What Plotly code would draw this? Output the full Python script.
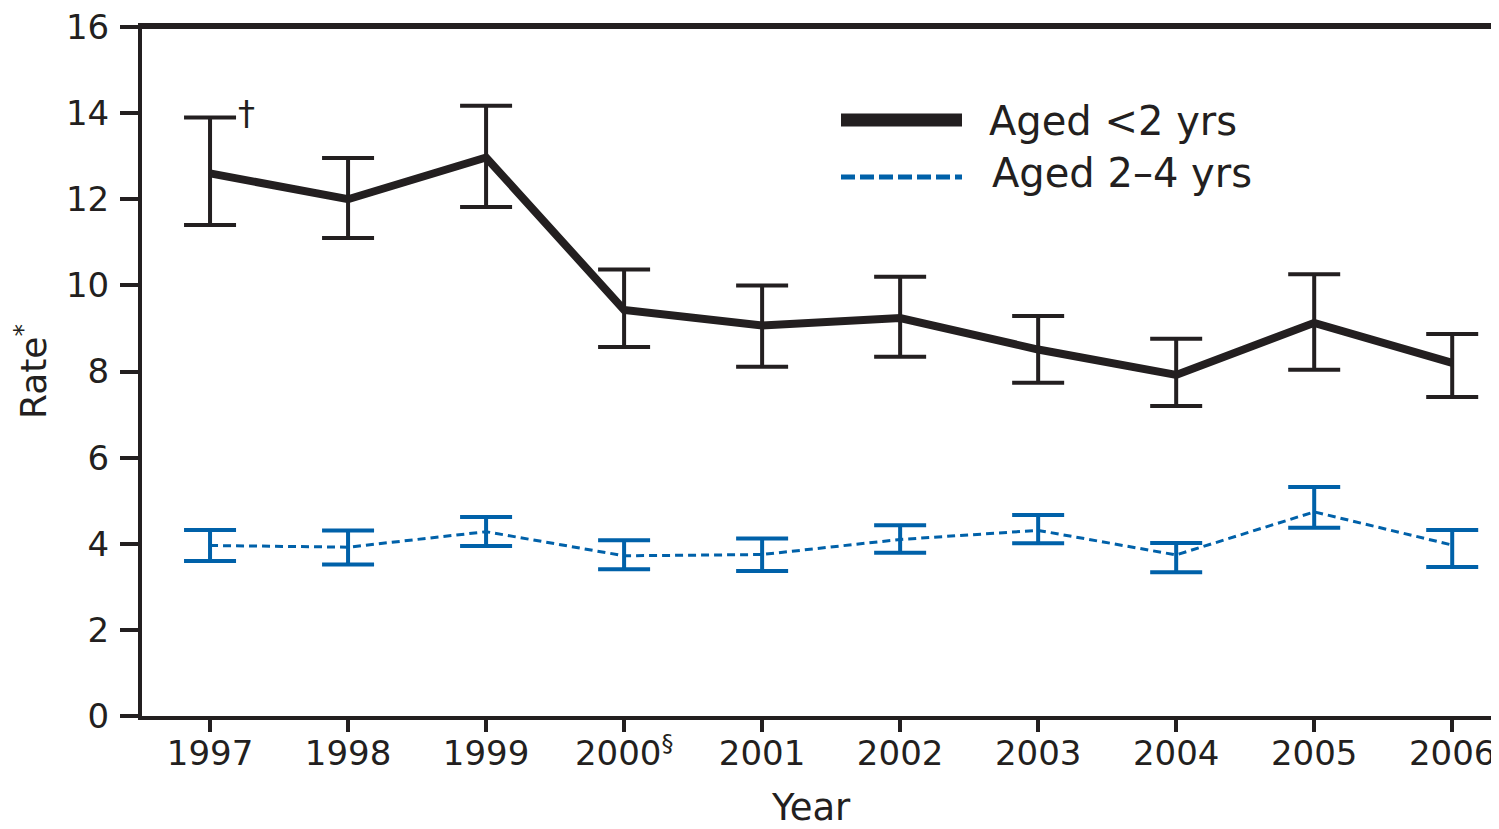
import plotly.graph_objects as go

years = [1997, 1998, 1999, 2000, 2001, 2002, 2003, 2004, 2005, 2006]
year_labels = ["1997", "1998", "1999", "2000<sup>§</sup>", "2001", "2002", "2003", "2004", "2005", "2006"]

under2 = [12.6, 12.0, 12.97, 9.43, 9.07, 9.24, 8.51, 7.92, 9.13, 8.2]
under2_hi = [13.9, 12.96, 14.17, 10.37, 10.0, 10.2, 9.29, 8.76, 10.26, 8.87]
under2_lo = [11.4, 11.1, 11.82, 8.57, 8.11, 8.34, 7.74, 7.2, 8.04, 7.41]

aged24 = [3.96, 3.92, 4.28, 3.72, 3.75, 4.1, 4.31, 3.74, 4.74, 3.97]
aged24_hi = [4.32, 4.31, 4.62, 4.08, 4.12, 4.43, 4.67, 4.02, 5.32, 4.32]
aged24_lo = [3.6, 3.52, 3.95, 3.41, 3.37, 3.79, 4.01, 3.34, 4.37, 3.46]

series_names = ["Aged <2 yrs", "Aged 2–4 yrs"]
y_ticks = [0, 2, 4, 6, 8, 10, 12, 14, 16]

BLACK = "#231f20"
BLUE = "#0061a9"
FONT = "DejaVu Sans, Liberation Sans, sans-serif"

# page body has an 8px margin; plot area spans page x 142..1495, y 27..716
PL, PT, PW, PH = 134, 19, 1353, 689

fig = go.Figure()

fig.add_trace(go.Scatter(
    x=years, y=aged24, mode="lines", name=series_names[1],
    line=dict(color=BLUE, width=3, dash="8px,5px"),
    error_y=dict(type="data", symmetric=False,
                 array=[h - v for h, v in zip(aged24_hi, aged24)],
                 arrayminus=[v - l for v, l in zip(aged24, aged24_lo)],
                 color=BLUE, thickness=4, width=26),
    showlegend=False,
))

fig.add_trace(go.Scatter(
    x=years, y=under2, mode="lines", name=series_names[0],
    line=dict(color=BLACK, width=8),
    error_y=dict(type="data", symmetric=False,
                 array=[h - v for h, v in zip(under2_hi, under2)],
                 arrayminus=[v - l for v, l in zip(under2, under2_lo)],
                 color=BLACK, thickness=4, width=26),
    showlegend=False,
))

def px_x(x):
    return (x - 142) / PW

def px_y(y):
    return (716 - y) / PH

# top border of the frame
fig.add_shape(type="line", xref="paper", yref="paper", x0=0, x1=1, y0=1, y1=1,
              line=dict(color=BLACK, width=4))

# Legend drawn manually (long line samples)
fig.add_shape(type="line", xref="paper", yref="paper",
              x0=px_x(841), x1=px_x(962), y0=px_y(120), y1=px_y(120),
              line=dict(color=BLACK, width=13))
fig.add_shape(type="line", xref="paper", yref="paper",
              x0=px_x(841), x1=px_x(962), y0=px_y(177), y1=px_y(177),
              line=dict(color=BLUE, width=5, dash="14px,5px"))
fig.add_annotation(xref="paper", yref="paper", x=px_x(987), y=px_y(121),
                   text=series_names[0], showarrow=False, xanchor="left", yanchor="middle",
                   font=dict(family=FONT, size=40, color=BLACK))
fig.add_annotation(xref="paper", yref="paper", x=px_x(990), y=px_y(173),
                   text=series_names[1], showarrow=False, xanchor="left", yanchor="middle",
                   font=dict(family=FONT, size=40, color=BLACK))

# dagger marker next to 1997
fig.add_annotation(x=years[0], y=under2_hi[0], text="†", showarrow=False,
                   xanchor="left", yanchor="bottom", xshift=26, yshift=-18,
                   font=dict(family=FONT, size=34, color=BLACK))

# x-axis title
fig.add_annotation(xref="paper", yref="paper", x=px_x(811), y=px_y(807),
                   text="Year", showarrow=False, xanchor="center", yanchor="middle",
                   font=dict(family=FONT, size=37, color=BLACK))

fig.update_layout(
    width=1491, height=821,
    margin=dict(l=PL, r=1491 - PL - PW, t=PT, b=821 - PT - PH),
    paper_bgcolor="white", plot_bgcolor="white",
    font=dict(family=FONT, color=BLACK),
)

fig.update_xaxes(
    range=[1996.507, 2006.31],
    tickvals=years, ticktext=year_labels,
    showgrid=False, zeroline=False,
    showline=True, linecolor=BLACK, linewidth=4, mirror=True,
    ticks="outside", ticklen=12, tickwidth=4, tickcolor=BLACK,
    tickfont=dict(family=FONT, size=34, color=BLACK),
    ticklabelstandoff=-8, ticklabeloverflow="allow",
    automargin=False,
)
fig.update_yaxes(
    range=[0, 16], tickvals=y_ticks,
    showgrid=False, zeroline=False,
    showline=True, linecolor=BLACK, linewidth=4, mirror=True,
    ticks="outside", ticklen=18, tickwidth=4, tickcolor=BLACK,
    tickfont=dict(family=FONT, size=34, color=BLACK),
    ticklabelstandoff=4, ticklabeloverflow="allow",
    automargin=False,
    title=dict(text="Rate<sup>*</sup>", font=dict(family=FONT, size=36, color=BLACK), standoff=14),
)

fig.write_html("out.html")
